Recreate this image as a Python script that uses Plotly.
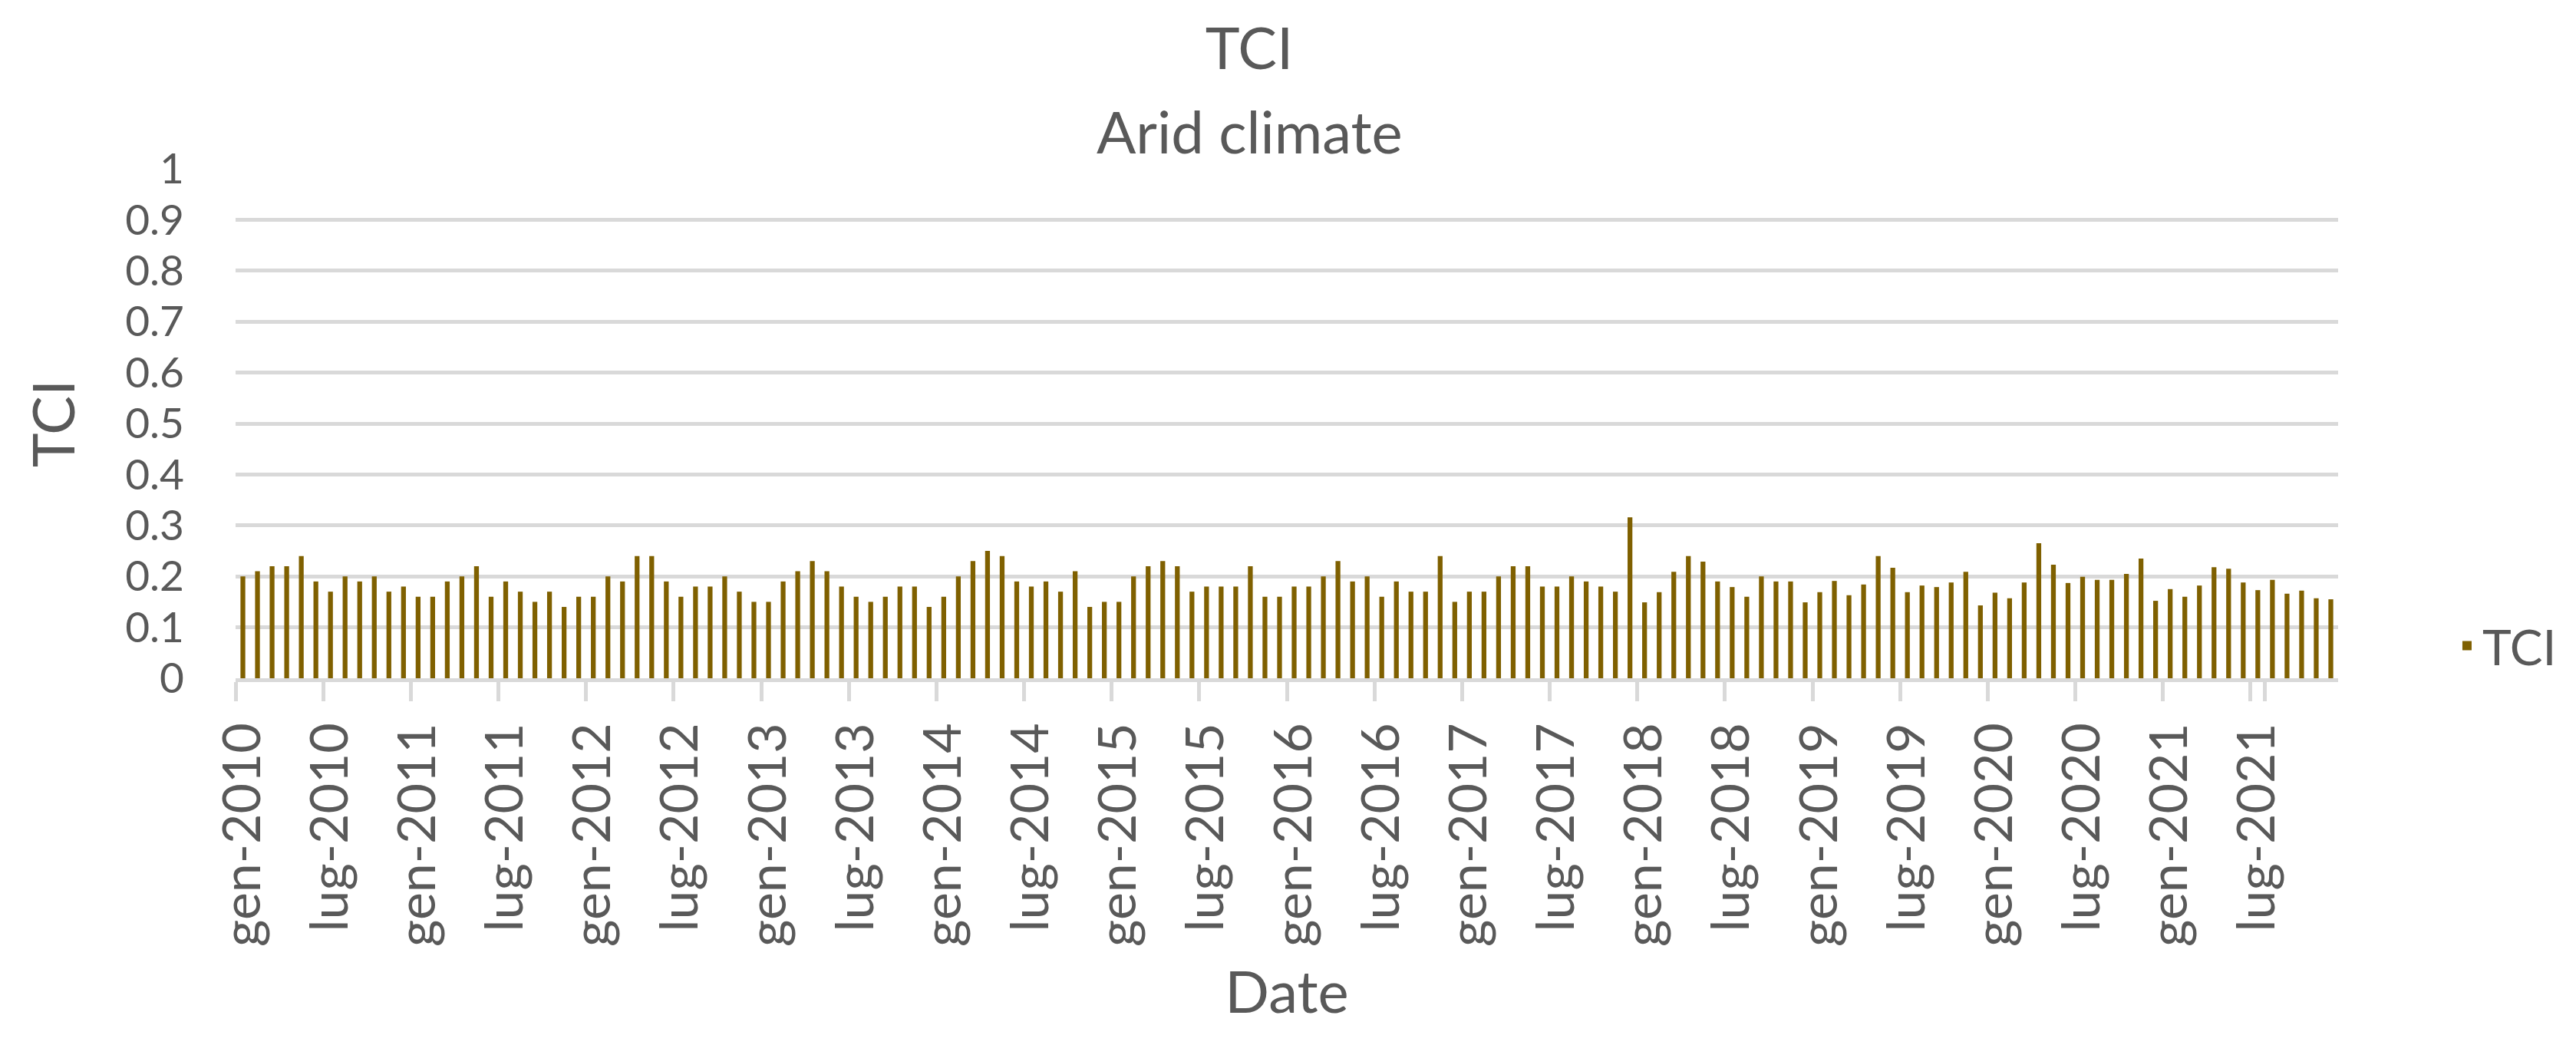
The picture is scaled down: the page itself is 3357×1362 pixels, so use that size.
import plotly.graph_objects as go

# ---- data -------------------------------------------------------------
months_it = ["gen", "feb", "mar", "apr", "mag", "giu",
             "lug", "ago", "set", "ott", "nov", "dic"]
years = list(range(2010, 2022))
dates = [f"{m}-{y}" for y in years for m in months_it]

tci_2010 = [0.20, 0.21, 0.22, 0.22, 0.24, 0.19, 0.17, 0.20, 0.19, 0.20, 0.17, 0.18]
tci_2011 = [0.16, 0.16, 0.19, 0.20, 0.22, 0.16, 0.19, 0.17, 0.15, 0.17, 0.14, 0.16]
tci_2012 = [0.16, 0.20, 0.19, 0.24, 0.24, 0.19, 0.16, 0.18, 0.18, 0.20, 0.17, 0.15]
tci_2013 = [0.15, 0.19, 0.21, 0.23, 0.21, 0.18, 0.16, 0.15, 0.16, 0.18, 0.18, 0.14]
tci_2014 = [0.16, 0.20, 0.23, 0.25, 0.24, 0.19, 0.18, 0.19, 0.17, 0.21, 0.14, 0.15]
tci_2015 = [0.15, 0.20, 0.22, 0.23, 0.22, 0.17, 0.18, 0.18, 0.18, 0.22, 0.16, 0.16]
tci_2016 = [0.18, 0.18, 0.20, 0.23, 0.19, 0.20, 0.16, 0.19, 0.17, 0.17, 0.24, 0.15]
tci_2017 = [0.17, 0.17, 0.20, 0.22, 0.22, 0.18, 0.18, 0.20, 0.19, 0.18, 0.17, 0.316]
tci_2018 = [0.149, 0.169, 0.209, 0.240, 0.229, 0.190, 0.179, 0.160, 0.200, 0.190, 0.190, 0.149]
tci_2019 = [0.169, 0.191, 0.163, 0.184, 0.240, 0.217, 0.169, 0.182, 0.179, 0.188, 0.209, 0.143]
tci_2020 = [0.168, 0.157, 0.188, 0.265, 0.223, 0.187, 0.199, 0.193, 0.193, 0.205, 0.235, 0.152]
tci_2021 = [0.175, 0.160, 0.182, 0.218, 0.215, 0.188, 0.173, 0.193, 0.166, 0.172, 0.157, 0.155]

tci = (tci_2010 + tci_2011 + tci_2012 + tci_2013 + tci_2014 + tci_2015 +
       tci_2016 + tci_2017 + tci_2018 + tci_2019 + tci_2020 + tci_2021)

tick_months = ["gen", "lug"]
tick_vals = [d for d in dates if d.split("-")[0] in tick_months]
y_ticks = [round(i * 0.1, 1) for i in range(11)]

# ---- styling ----------------------------------------------------------
FONT = "Lato, 'Open Sans', sans-serif"
TXT = "#595959"
GRID = "#d9d9d9"
BAR = "#7f6000"

fig = go.Figure(
    go.Bar(
        x=dates,
        y=tci,
        name="TCI",
        marker=dict(color=BAR, line=dict(width=0)),
        showlegend=True,
    )
)

fig.update_layout(
    width=3357,
    height=1362,
    margin=dict(l=307, r=310, t=220, b=478, pad=0),
    paper_bgcolor="white",
    plot_bgcolor="white",
    bargap=0.67,
    font=dict(family=FONT, color=TXT, size=64),
    title=dict(
        text="TCI",
        x=(1628 / 3357),
        xanchor="center",
        y=1 - 63 / 1362,
        yanchor="middle",
        yref="container",
        font=dict(family=FONT, color=TXT, size=76),
    ),
    annotations=[
        dict(
            text="Arid climate",
            xref="paper",
            yref="paper",
            x=(1628 - 307) / 2740,
            y=1 + (220 - 171) / 664,
            xanchor="center",
            yanchor="middle",
            showarrow=False,
            font=dict(family=FONT, color=TXT, size=76),
        )
    ],
    legend=dict(
        x=1.054,
        xanchor="left",
        y=(884 - 842) / 664,
        yanchor="middle",
        font=dict(family=FONT, color=TXT, size=64),
        bgcolor="rgba(0,0,0,0)",
    ),
    xaxis=dict(
        type="category",
        tickmode="array",
        tickvals=tick_vals,
        ticktext=tick_vals,
        tickangle=-90,
        tickson="boundaries",
        ticks="outside",
        ticklen=25,
        tickwidth=5,
        tickcolor=GRID,
        ticklabelstandoff=26,
        showgrid=False,
        showline=True,
        linecolor=GRID,
        linewidth=5,
        tickfont=dict(family=FONT, color=TXT, size=68),
        title=dict(text="Date", standoff=35,
                   font=dict(family=FONT, color=TXT, size=76)),
    ),
    yaxis=dict(
        range=[0, 1],
        tickmode="array",
        tickvals=y_ticks,
        ticktext=[f"{v:g}" for v in y_ticks],
        showgrid=True,
        gridcolor=GRID,
        gridwidth=5,
        zeroline=False,
        showline=False,
        ticks="",
        ticklabelstandoff=66,
        tickfont=dict(family=FONT, color=TXT, size=55),
        title=dict(text="TCI", standoff=40,
                   font=dict(family=FONT, color=TXT, size=76)),
    ),
)

fig.write_html(
    "out.html",
    config={"displayModeBar": False},
    post_script="document.body.style.margin='0';document.body.style.overflow='hidden';",
)
